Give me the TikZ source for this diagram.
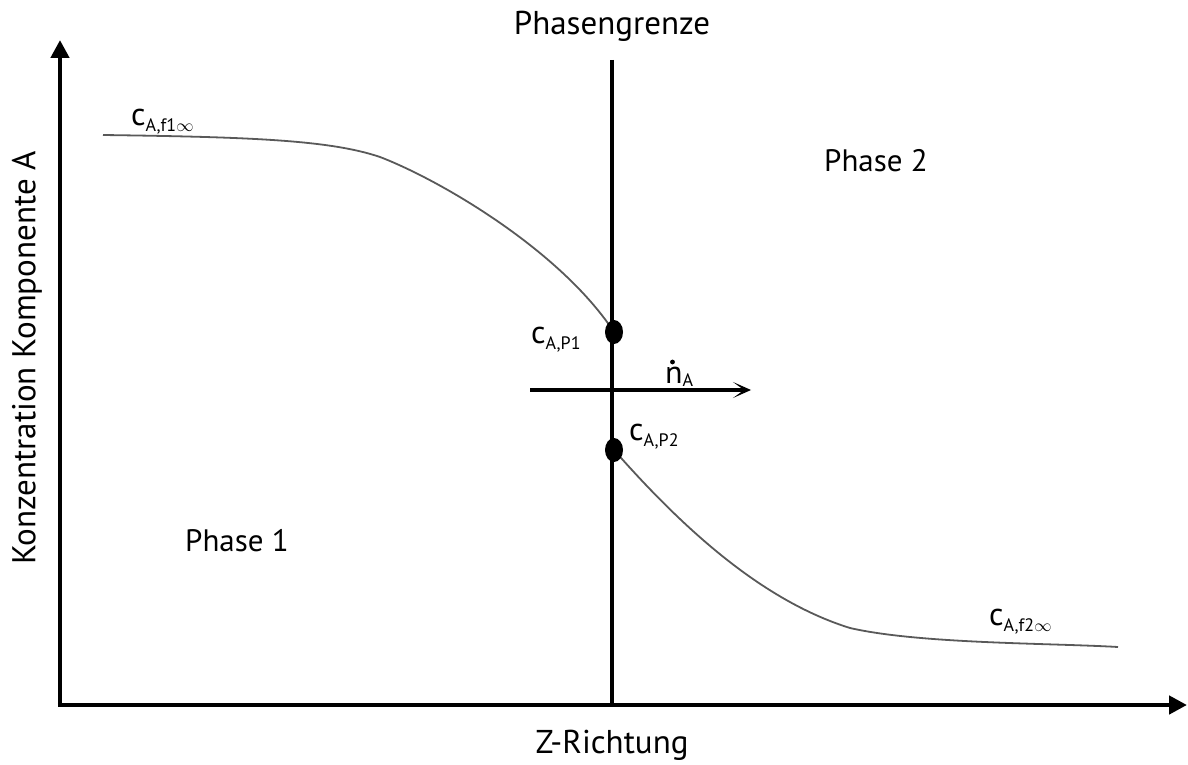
\documentclass[tikz,border=0pt]{standalone}
\usepackage{fontspec}
\setmainfont{PT Sans}
\usetikzlibrary{arrows.meta,shapes.geometric}
\newcommand{\cA}[1]{{\fontsize{32}{32}\selectfont c}\raisebox{-6pt}{\fontsize{18}{18}\selectfont #1}}
\begin{document}
\begin{tikzpicture}[x=1pt,y=-1pt,
  axis/.style={line width=4.5pt,-{Triangle[length=18pt,width=18pt]}},
  boundary/.style={line width=4pt},
  flux/.style={line width=3.5pt,-{Stealth[length=18pt,width=16pt,inset=11pt]}},
  profile/.style={line width=1.8pt,draw=black!65},
  dotmark/.style={ellipse,fill=black,minimum width=18pt,minimum height=24pt,inner sep=0pt},
  big/.style={font=\fontsize{33}{33}\selectfont,inner sep=0pt},
  phase/.style={font=\fontsize{31}{31}\selectfont,inner sep=0pt},
  lab/.style={inner sep=0pt,anchor=base west}]
\useasboundingbox (0,0) rectangle (1188,765);
% axes
\coordinate (O) at (60,705);
\coordinate (ytip) at (60,40);
\coordinate (xtip) at (1187,705);
\draw[axis] ([yshift=2.25pt]O) -- (ytip);
\draw[axis] ([xshift=-2.25pt]O) -- (xtip);
% phase boundary
\coordinate (btop) at (612,60);
\coordinate (bbot) at (612,705);
\draw[boundary] (btop) -- (bbot);
% profile
\coordinate (s1) at (103,135);
\coordinate (p1c) at (614,332);
\coordinate (p2c) at (614,450);
\coordinate (e2) at (1118,647);
\draw[profile] (s1) .. controls (250,137) and (330,140) .. (380,157)
  .. controls (440,180) and (560,250) .. (p1c);
\draw[profile] (p2c) .. controls (680,525) and (760,600) .. (850,628)
  .. controls (920,644) and (1050,643) .. (e2);
\node[dotmark] (p1) at (p1c) {};
\node[dotmark] (p2) at (p2c) {};
% flux arrow
\coordinate (fs) at (530,390);
\coordinate (fe) at (751,390);
\draw[flux] (fs) -- (fe);
% labels
\node[big] (pg) at (612,26) {Phasengrenze};
\node[big] (zr) at (612,745) {Z-Richtung};
\node[big,rotate=90] (kk) at (27,358) {Konzentration Komponente A};
\node[phase] (ph2) at (876,161) {Phase 2};
\node[phase] (ph1) at (237,541) {Phase 1};
\node[lab] (c1) at (131,125) {\cA{A,f1$\infty$}};
\node[lab] (c2) at (531,343) {\cA{A,P1}};
\node[lab] (c3) at (629,440) {\cA{A,P2}};
\node[lab] (c4) at (989,625) {\cA{A,f2$\infty$}};
\node[lab] (nA) at (665,383) {{\fontsize{32}{32}\selectfont n}\raisebox{-3pt}{\fontsize{18}{18}\selectfont A}};
\fill (672.5,362) circle (2.4pt);
\end{tikzpicture}
\end{document}
